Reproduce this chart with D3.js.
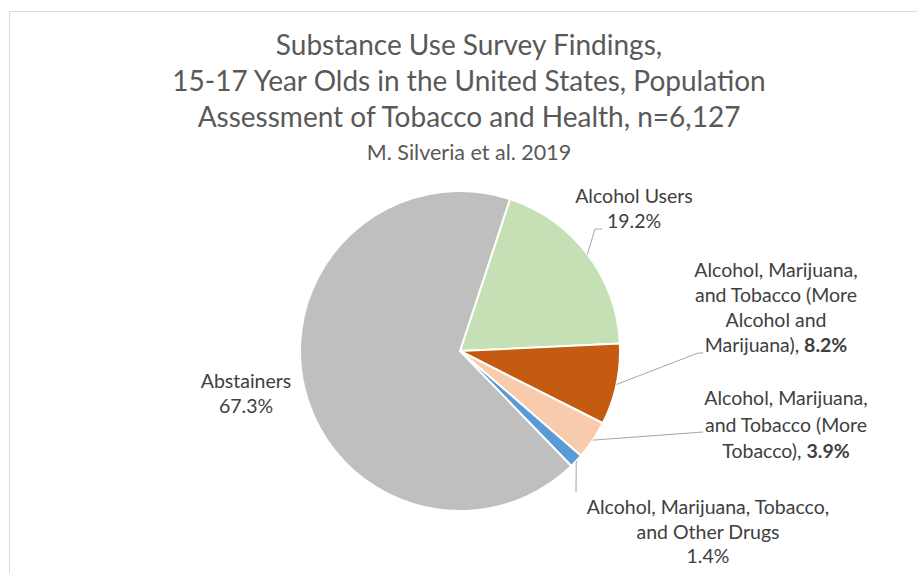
<!DOCTYPE html>
<html>
<head>
<meta charset="utf-8">
<script src="https://cdn.jsdelivr.net/npm/d3@7"></script>
<style>
  html, body { margin: 0; padding: 0; background: #fff; }
  svg text { font-family: "Lato", "Noto Sans", sans-serif; }
</style>
</head>
<body>
<svg id="chart" width="917" height="573"></svg>
<script>
// Survey categories and shares (%)
const categories = [
  "Alcohol Users",
  "Alcohol, Marijuana, and Tobacco (More Alcohol and Marijuana)",
  "Alcohol, Marijuana, and Tobacco (More Tobacco)",
  "Alcohol, Marijuana, Tobacco, and Other Drugs",
  "Abstainers"
];
const shares = [19.2, 8.2, 3.9, 1.4, 67.3];
const colors = ["#C5E0B4", "#C55A11", "#F8CBAD", "#5B9BD5", "#BFBFBF"];

const titleLines = [
  "Substance Use Survey Findings,",
  "15-17 Year Olds in the United States, Population",
  "Assessment of Tobacco and Health, n=6,127"
];
const subtitle = "M. Silveria et al. 2019";

// Label text, split into lines; each line is a list of [text, bold] runs
const labelLines = [
  [[["Alcohol Users", false]], [["19.2%", false]]],
  [[["Alcohol, Marijuana,", false]], [["and Tobacco (More", false]], [["Alcohol and", false]], [["Marijuana), ", false], ["8.2%", true]]],
  [[["Alcohol, Marijuana,", false]], [["and Tobacco (More", false]], [["Tobacco), ", false], ["3.9%", true]]],
  [[["Alcohol, Marijuana, Tobacco,", false]], [["and Other Drugs", false]], [["1.4%", false]]],
  [[["Abstainers", false]], [["67.3%", false]]]
];

const svg = d3.select("#chart");

// chart frame (top and left edges visible)
svg.append("line").attr("x1", 9).attr("y1", 11.5).attr("x2", 917).attr("y2", 11.5)
  .attr("stroke", "#d9d9d9").attr("stroke-width", 1);
svg.append("line").attr("x1", 9.5).attr("y1", 11).attr("x2", 9.5).attr("y2", 573)
  .attr("stroke", "#d9d9d9").attr("stroke-width", 1);

// title
const title = svg.append("text").attr("text-anchor", "middle")
  .attr("fill", "#595959").style("font-size", "28px");
titleLines.forEach((t, i) => {
  title.append("tspan").attr("x", 469).attr("y", 55 + i * 36).text(t);
});
svg.append("text").attr("x", 469).attr("y", 160).attr("text-anchor", "middle")
  .attr("fill", "#595959").style("font-size", "21.5px").text(subtitle);

// pie
const cx = 460, cy = 351, R = 160;
const startOffset = 18.2 * Math.PI / 180;
const pie = d3.pie().sort(null).value(d => d)
  .startAngle(startOffset).endAngle(startOffset + 2 * Math.PI);
const arcs = pie(shares);
const arc = d3.arc().innerRadius(0).outerRadius(R);

const g = svg.append("g").attr("transform", `translate(${cx},${cy})`);
g.selectAll("path.slice").data(arcs).enter().append("path")
  .attr("class", "slice")
  .attr("d", arc)
  .attr("fill", (d, i) => colors[i])
  .attr("stroke", "#fff").attr("stroke-width", 2).attr("stroke-linejoin", "round");

// label layout: centre x, first baseline y, line height
const labelPos = [
  { x: 634, y: 203, lh: 24.5 },
  { x: 776, y: 277, lh: 25 },
  { x: 786, y: 405, lh: 26.5 },
  { x: 708, y: 514, lh: 24.5 },
  { x: 246, y: 388, lh: 25 }
];
// leader lines: from the slice edge to the label (elbow, end)
const leaders = [
  { elbow: [595, 229], end: [602, 229] },
  { elbow: [698, 353], end: [703, 353] },
  { elbow: [703, 432], end: [703, 432] },
  { elbow: [576, 492], end: [576, 492] },
  null
];

arcs.forEach((d, i) => {
  const L = leaders[i];
  if (!L) return;
  const mid = (d.startAngle + d.endAngle) / 2;
  const sx = cx + Math.sin(mid) * R, sy = cy - Math.cos(mid) * R;
  svg.append("polyline")
    .attr("points", [[sx, sy], L.elbow, L.end].map(p => p.join(",")).join(" "))
    .attr("fill", "none").attr("stroke", "#a6a6a6").attr("stroke-width", 1);
});

labelLines.forEach((lines, i) => {
  const p = labelPos[i];
  const t = svg.append("text").attr("text-anchor", "middle")
    .attr("fill", "#404040").style("font-size", "19.5px");
  lines.forEach((runs, j) => {
    runs.forEach((r, k) => {
      const ts = t.append("tspan").text(r[0]);
      if (k === 0) ts.attr("x", p.x).attr("y", p.y + j * p.lh);
      if (r[1]) ts.attr("font-weight", "bold");
    });
  });
});
</script>
</body>
</html>
